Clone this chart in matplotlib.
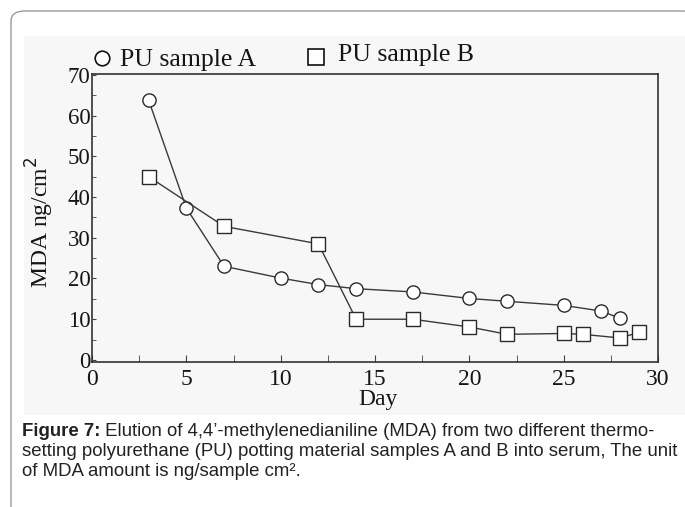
import numpy as np
import matplotlib.pyplot as plt
from matplotlib.patches import FancyBboxPatch, Rectangle
from matplotlib.lines import Line2D

# values
days_a = [3, 5, 7, 10, 12, 14, 17, 20, 22, 25, 27, 28]
mda_a = [63.8, 37.3, 23.0, 20.1, 18.5, 17.5, 16.7, 15.1, 14.4, 13.4, 12.0, 10.2]

days_b = [3, 7, 12, 14, 17, 20, 22, 25, 26, 28, 29]
mda_b = [45.0, 32.8, 28.5, 10.0, 10.0, 8.1, 6.3, 6.5, 6.3, 5.4, 6.8]

x_ticks = [0, 5, 10, 15, 20, 25, 30]
y_ticks = [0, 10, 20, 30, 40, 50, 60, 70]

caption = [
    ("Figure 7:", " Elution of 4,4\u2019-methylenedianiline (MDA) from two different thermo-"),
    ("", "setting polyurethane (PU) potting material samples A and B into serum, The unit"),
    ("", "of MDA amount is ng/sample cm\u00b2."),
]

W, H = 685, 507
fig = plt.figure(figsize=(W / 100, H / 100), dpi=100)

# card frame and scan background
card = FancyBboxPatch((11 / W, -0.1), 1.0, (H - 11) / H + 0.1,
                      boxstyle="round,pad=0,rounding_size=0.02",
                      transform=fig.transFigure, fc="white", ec="#9a9a9a", lw=1.0,
                      zorder=-3)
fig.patches.append(card)
fig.patches.append(Rectangle((24 / W, (H - 415) / H), (W - 24) / W, (415 - 36) / H,
                             transform=fig.transFigure, fc="#f7f7f7", ec="none",
                             zorder=-2))

serif = "Liberation Serif"
ink = "#151515"
ax = fig.add_axes([92 / W, (H - 362) / H, (658 - 92) / W, (362 - 74) / H])
ax.set_facecolor("none")

ax.plot(days_a, mda_a, color="#3a3a3a", lw=1.0, marker="o", ms=9.5,
        mfc="white", mec="#2a2a2a", mew=1.0)
ax.plot(days_b, mda_b, color="#3a3a3a", lw=1.0, marker="s", ms=9.5,
        mfc="white", mec="#2a2a2a", mew=1.0)

ax.set_xlim(0, 30)
ax.set_ylim(-0.5, 70.2)
ax.set_xticks(x_ticks)
ax.set_yticks(y_ticks)
ax.set_xticks(np.arange(0, 30.1, 2.5), minor=True)
ax.set_yticks(np.arange(0, 70.1, 5), minor=True)
ax.tick_params(axis="both", which="both", direction="in", colors="#444444",
               labelcolor=ink)
ax.tick_params(axis="x", which="both", length=5, pad=5, labelsize=17)
ax.tick_params(axis="y", which="both", length=3, pad=1, labelsize=16.5)
for lab in ax.get_xticklabels() + ax.get_yticklabels():
    lab.set_fontfamily(serif)
for s in ax.spines.values():
    s.set_color("#333333")
    s.set_linewidth(1.2)

fig.text(378 / W, 1 - 399 / H, "Day", family=serif, fontsize=17,
         ha="center", va="center", color=ink)
fig.text(40 / W, 1 - 222 / H, "MDA ng/cm$^2$", family=serif, fontsize=17,
         ha="center", va="center", rotation=90, color=ink)

# legend drawn above the axes like the original scan
fig.lines.append(Line2D([102 / W], [1 - 58 / H], marker="o", ms=10.5, mfc="white",
                        mec="#111111", mew=1.2, transform=fig.transFigure))
fig.text(120 / W, 1 - 66 / H, "PU sample A", family=serif, fontsize=18.5,
         ha="left", va="baseline", color=ink)
fig.lines.append(Line2D([316 / W], [1 - 57 / H], marker="s", ms=12, mfc="white",
                        mec="#111111", mew=1.2, transform=fig.transFigure))
fig.text(338 / W, 1 - 61 / H, "PU sample B", family=serif, fontsize=18.5,
         ha="left", va="baseline", color=ink)

# caption
y0 = 436
for i, (bold, rest) in enumerate(caption):
    y = 1 - (y0 + 20 * i) / H
    t = fig.text(22 / W, y, bold, family="Liberation Sans", fontweight="bold",
                 fontsize=13.4, ha="left", va="baseline", color="#222222")
    if bold:
        fig.canvas.draw()
        bb = t.get_window_extent()
        x = bb.x1 / W
    else:
        x = 22 / W
    fig.text(x, y, rest, family="Liberation Sans", fontsize=13.4,
             ha="left", va="baseline", color="#222222")

fig.savefig("out.png", dpi=100)
